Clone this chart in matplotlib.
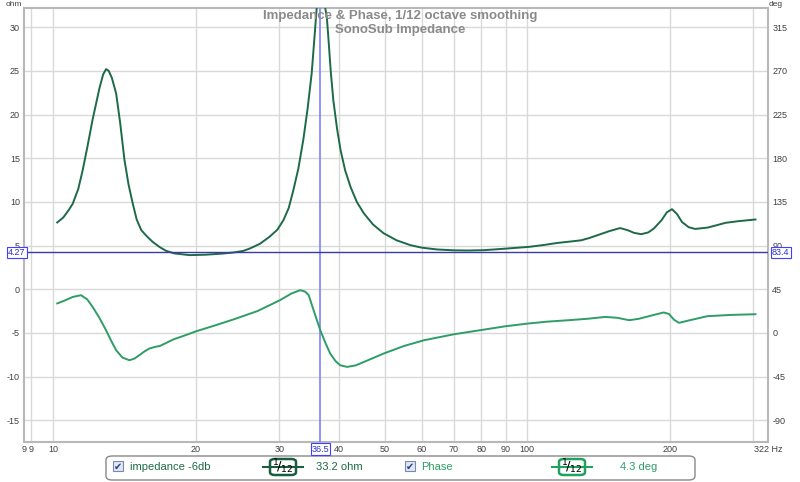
import numpy as np
import matplotlib.pyplot as plt
from matplotlib.patches import FancyBboxPatch, Rectangle

plt.rcParams['font.family'] = ['Liberation Sans', 'DejaVu Sans']
plt.rcParams['axes.unicode_minus'] = False

# impedance (ohm)
imp_f = [10.2, 10.5, 10.8, 11.0, 11.3, 11.54, 11.8, 12.11, 12.52, 12.75, 12.93, 13.1, 13.3,
         13.58, 13.85, 14.14, 14.42, 14.72, 15.0, 15.34, 15.8, 16.23, 16.8, 17.31, 18.0,
         19.4, 21.0, 22.8, 24.0, 25.2, 26.0, 27.3, 28.6, 29.7, 30.6, 31.4, 32.1, 32.9, 33.7,
         34.4, 35.1, 35.6, 36.0, 36.6, 37.3, 37.8, 38.1, 38.5, 39.0, 39.7, 40.4, 41.3, 42.4,
         43.7, 45.2, 47.3, 49.8, 53.0, 56.7, 60.0, 64.5, 70.0, 75.0, 81.2, 90.9, 101, 108,
         116, 123, 130, 135, 141, 149, 157, 163, 168, 174, 180, 185, 192, 197, 202, 207, 212,
         219, 226, 240, 250, 262, 280, 303]
imp_ohm = [7.64, 8.2, 9.1, 9.8, 11.5, 13.6, 16.2, 19.4, 23.0, 24.6, 25.2, 25.0, 24.2,
           22.4, 19.0, 14.8, 12.0, 9.8, 8.0, 6.76, 6.0, 5.4, 4.8, 4.39, 4.1,
           3.9, 3.95, 4.08, 4.2, 4.39, 4.66, 5.2, 6.0, 6.8, 7.9, 9.3, 11.3, 13.8, 17.1,
           20.6, 24.7, 29.0, 32.5, 34.2, 33.0, 31.0, 28.5, 25.0, 21.6, 18.4, 15.9, 13.6, 11.7,
           10.0, 8.7, 7.4, 6.4, 5.6, 5.04, 4.75, 4.55, 4.45, 4.43, 4.47, 4.66, 4.85, 5.05,
           5.3, 5.45, 5.6, 5.85, 6.2, 6.65, 7.0, 6.75, 6.45, 6.3, 6.5, 6.95, 7.9, 8.8, 9.16, 8.6, 7.7,
           7.1, 6.9, 7.05, 7.3, 7.6, 7.8, 7.98]

# phase (deg)
ph_f = [10.2, 10.6, 11.0, 11.45, 11.8, 12.11, 12.5, 12.93, 13.25, 13.58, 14.0, 14.48, 14.85,
        15.2, 15.6, 15.97, 16.4, 16.8, 17.3, 17.9, 19.0, 20.05, 22.0, 24.0, 27.0, 30.1, 31.8,
        33.2, 34.0, 34.6, 35.5, 36.6, 37.5, 38.4, 39.4, 40.3, 41.7, 43.5, 46.0, 49.8, 55.0,
        60.6, 70.0, 81.2, 90.0, 100.4, 110, 122, 134, 146, 155, 164, 172, 185, 194, 199, 204,
        209, 218, 240, 270, 303]
ph_deg = [30.3, 33.5, 37.0, 38.8, 34.5, 26.8, 16.0, 2.7, -8.0, -17.9, -25.5, -28.2, -26.5,
          -23.0, -19.0, -16.1, -14.5, -13.5, -10.5, -6.9, -2.5, 1.7, 7.8, 13.8, 22.5, 33.7, 40.5,
          44.0, 42.5, 38.8, 22.0, 2.7, -10.0, -21.3, -29.0, -33.4, -35.1, -33.5, -28.5, -21.3, -13.5,
          -7.6, -1.5, 3.4, 6.8, 9.6, 11.5, 13.0, 14.5, 16.4, 15.5, 13.0, 14.5, 18.5, 21.0, 19.5, 13.5,
          10.3, 12.5, 17.2, 18.5, 19.2]

xticks = [9, 10, 20, 30, 40, 50, 60, 70, 80, 90, 100, 200]
xgrid = xticks + [300]
ohm_ticks = [30, 25, 20, 15, 10, 5, 0, -5, -10, -15]
deg_ticks = [315, 270, 225, 180, 135, 90, 45, 0, -45, -90]

cursor_f = 36.5
cursor_ohm = 4.27

imp_col = '#1d6a47'
ph_col = '#2e9d66'
txt_col = '#404040'

fig = plt.figure(figsize=(8, 4.82), dpi=100)
ax = fig.add_axes([24/800, 1-442/482, 744/800, 434/482])
xmin, xmax = 8.68, 322
ax.set_xscale('log')
ax.set_xlim(xmin, xmax)
ax.set_ylim(-17.5, 32.2)

for f in xgrid:
    ax.axvline(f, color='#d9d9d9', lw=1, zorder=0)
for v in ohm_ticks:
    ax.axhline(v, color='#d9d9d9', lw=1, zorder=0)

ax.set_xticks([xmin] + xticks + [xmax])
ax.set_xticklabels(['9'] + [str(t) for t in xticks] + ['322 Hz'])
ax.xaxis.set_minor_locator(plt.NullLocator())
ax.set_yticks(ohm_ticks)
ax.set_yticklabels([str(t) for t in ohm_ticks])
ax.tick_params(length=0, labelsize=6.5, colors=txt_col, pad=3)
ax.tick_params(axis='x', pad=2)
for s in ax.spines.values():
    s.set_color('#b8b8b8')
    s.set_linewidth(1.5)

ax2 = ax.twinx()
ax2.set_ylim(9*-17.5+45, 9*32.2+45)
ax2.set_yticks(deg_ticks)
ax2.set_yticklabels([str(t) for t in deg_ticks])
ax2.tick_params(length=0, labelsize=6.5, colors=txt_col, pad=3)
for s in ax2.spines.values():
    s.set_visible(False)

ax.plot(imp_f, imp_ohm, color=imp_col, lw=1.4, zorder=3)
ax2.plot(ph_f, ph_deg, color=ph_col, lw=1.4, zorder=3)

# cursors
ax.axvline(cursor_f, color='#8080ff', lw=1.2, zorder=4)
ax.axhline(cursor_ohm, color='#3a3aa0', lw=1, zorder=4)
box = dict(boxstyle='square,pad=0.12', fc='white', ec='#4040ff', lw=0.8)
fig.text(8/800, 1-252.5/482, '4.27', fontsize=6.5, color='#3030d0', va='center', ha='left', bbox=box, zorder=6)
fig.text(772/800, 1-252.5/482, '83.4', fontsize=6.5, color='#3030d0', va='center', ha='left', bbox=box, zorder=6)
fig.text(320.5/800, 1-449/482, '36.5', fontsize=6.5, color='#3030d0', va='center', ha='center', bbox=box)

fig.text(14/800, 1-4/482, 'ohm', fontsize=6, color=txt_col, ha='center', va='center')
fig.text(776/800, 1-4/482, 'deg', fontsize=6, color=txt_col, ha='center', va='center')

fig.text(0.5, 1-16/482, 'Impedance & Phase, 1/12 octave smoothing', ha='center', va='center',
         fontsize=9.5, fontweight='bold', color='#8a8a8a', zorder=5)
fig.text(0.5, 1-30/482, 'SonoSub Impedance', ha='center', va='center',
         fontsize=9.5, fontweight='bold', color='#8a8a8a', zorder=5)

# legend strip
fig.patches.append(FancyBboxPatch((106/800, 1-480/482), 589/800, 24/482,
                                  boxstyle='round,pad=0,rounding_size=0.008',
                                  transform=fig.transFigure, fc='white', ec='#888888', lw=1))


def checkbox(x):
    fig.patches.append(Rectangle((x/800, 1-471/482), 10/800, 10/482, transform=fig.transFigure,
                                 fc='#dfe6f5', ec='#7a8aa8', lw=0.8))
    fig.text((x+5)/800, 1-466.5/482, '\u2714', fontsize=7, color='#2a3a8a', ha='center', va='center',
             family='DejaVu Sans')


def badge(xc, col):
    y = 1-467/482
    fig.add_artist(plt.Line2D([(xc-20)/800, (xc+20)/800], [y, y], color=col, lw=1.5,
                              transform=fig.transFigure))
    fig.patches.append(FancyBboxPatch(((xc-13)/800, 1-475/482), 26/800, 16/482,
                                      boxstyle='round,pad=0,rounding_size=0.006',
                                      transform=fig.transFigure, fc='white', ec=col, lw=1.8))
    fig.text(xc/800, y, r'$^{1}\!/_{12}$', fontsize=9.5, color='black', ha='center', va='center')


checkbox(113)
fig.text(130/800, 1-467/482, 'impedance -6db', fontsize=8, color=imp_col, va='center')
badge(283, '#1b5e3f')
fig.text(316/800, 1-467/482, '33.2 ohm', fontsize=8, color=imp_col, va='center')
checkbox(405)
fig.text(421/800, 1-467/482, 'Phase', fontsize=8, color=ph_col, va='center')
badge(572, '#22a060')
fig.text(620/800, 1-467/482, '4.3 deg', fontsize=8, color=ph_col, va='center')

fig.savefig('out.png', dpi=100)
